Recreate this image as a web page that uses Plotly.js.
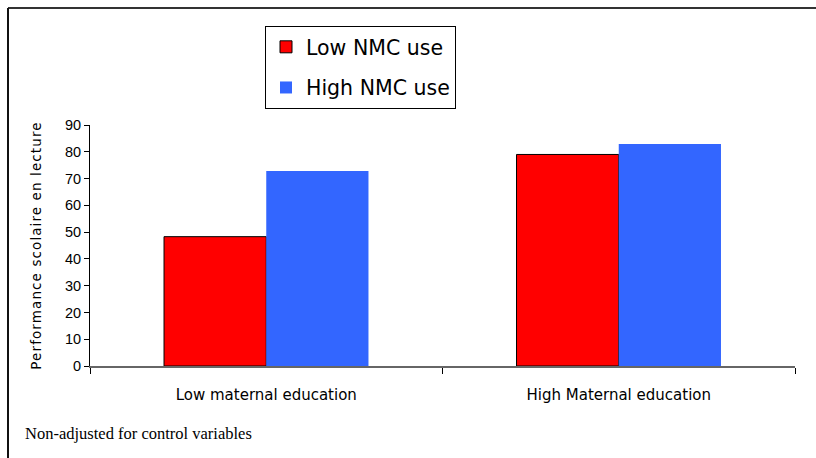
<!DOCTYPE html>
<html>
<head>
<meta charset="utf-8">
<script src="https://cdn.plot.ly/plotly-3.0.1.min.js"></script>
<style>
html,body{margin:0;padding:0;background:#fff;}
#chart{width:816px;height:458px;}
#chart .ytitle{letter-spacing:1.1px;}
</style>
</head>
<body>
<div id="chart"></div>
<script>
const categories = ["Low maternal education", "High Maternal education"];
const lowNmcUse = [48.3, 79.0];
const highNmcUse = [72.8, 82.9];
const seriesNames = ["Low NMC use", "High NMC use"];
const yTickValues = [0, 10, 20, 30, 40, 50, 60, 70, 80, 90];

const W = 816, H = 458;
const L = 90, R = 21, T = 125, B = 92;
const pw = W - L - R, ph = H - T - B;
const px = x => (x - L) / pw;
const py = y => (H - B - y) / ph;

const traces = [
  {type: "bar", name: seriesNames[0], x: categories, y: lowNmcUse,
   marker: {color: "#ff0000", line: {color: "#000000", width: 1}}, legendgroup: "a"},
  {type: "bar", name: seriesNames[1], x: categories, y: highNmcUse,
   marker: {color: "#3366ff", line: {width: 0}}, legendgroup: "b"}
];

const layout = {
  width: W, height: H,
  margin: {l: L, r: R, t: T, b: B, pad: 0},
  paper_bgcolor: "#ffffff", plot_bgcolor: "#ffffff",
  barmode: "group", bargap: 0.42, bargroupgap: 0,
  showlegend: true,
  legend: {
    x: px(265), y: py(26), xanchor: "left", yanchor: "top",
    bordercolor: "#000000", borderwidth: 1, bgcolor: "#ffffff",
    font: {family: "DejaVu Sans", size: 20.5, color: "#000000"},
    tracegroupgap: 11, traceorder: "grouped"
  },
  xaxis: {
    type: "category", tickson: "boundaries", ticks: "outside", ticklen: 6, tickcolor: "#000",
    showline: true, linecolor: "#666", linewidth: 1.5,
    showgrid: false, zeroline: false,
    tickfont: {family: "DejaVu Sans", size: 15, color: "#000"},
    ticklabelstandoff: 14
  },
  yaxis: {
    range: [0, 90], tickvals: yTickValues, ticks: "outside", ticklen: 5, tickcolor: "#000",
    showline: true, linecolor: "#000", linewidth: 1,
    showgrid: false, zeroline: false,
    tickfont: {family: "Liberation Sans", size: 14.5, color: "#000"},
    title: {text: "Performance scolaire en lecture", font: {family: "DejaVu Sans", size: 13.5, color: "#000"}, standoff: 20}
  },
  annotations: [
    {xref: "paper", yref: "paper", x: px(23), y: py(433), xanchor: "left", yanchor: "middle",
     text: "Non-adjusted for control variables", showarrow: false,
     font: {family: "Liberation Serif", size: 16.5, color: "#000"}}
  ],
  shapes: [
    {type: "line", xref: "paper", yref: "paper", x0: px(8), x1: px(816), y0: py(8), y1: py(8), line: {color: "#333", width: 2}},
    {type: "line", xref: "paper", yref: "paper", x0: px(8), x1: px(8), y0: py(8), y1: py(458), line: {color: "#111", width: 2}}
  ]
};

Plotly.newPlot("chart", traces, layout, {displayModeBar: false, staticPlot: true});
</script>
</body>
</html>
